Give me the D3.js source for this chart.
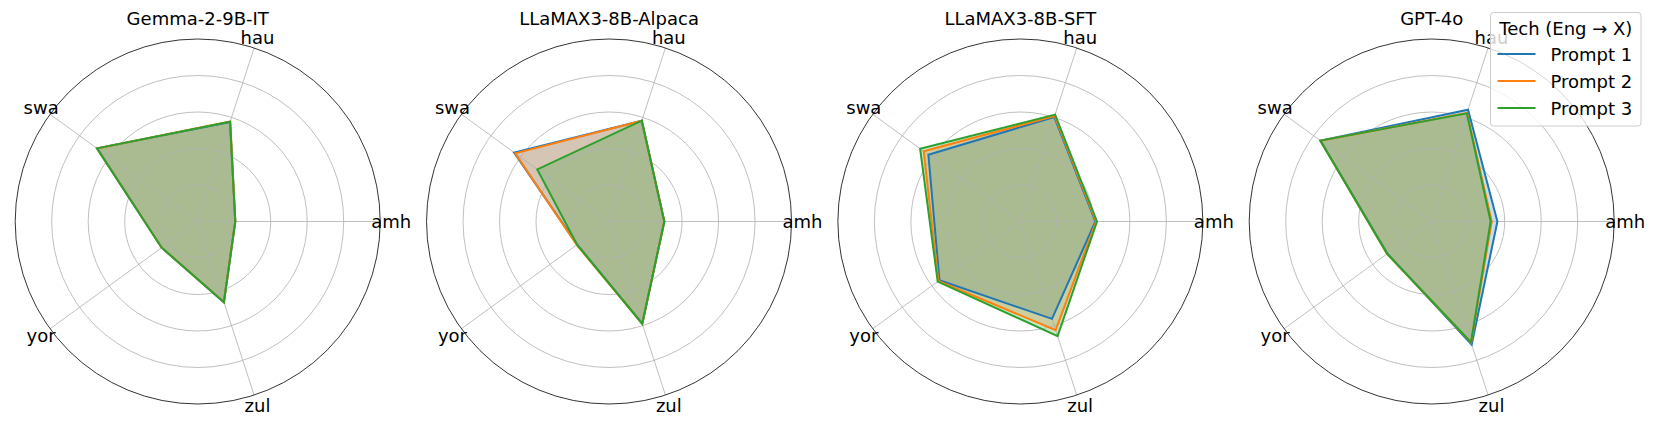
<!DOCTYPE html>
<html>
<head>
<meta charset="utf-8">
<script src="https://cdn.jsdelivr.net/npm/d3@7"></script>
<style>
  body { margin: 0; background: #fff; }
  text { font-family: "DejaVu Sans", sans-serif; fill: #000; }
</style>
</head>
<body>
<div id="chart"></div>
<script>
// Models (one radar per model) and languages (spokes)
const models = ["Gemma-2-9B-IT", "LLaMAX3-8B-Alpaca", "LLaMAX3-8B-SFT", "GPT-4o"];
const langs = ["amh", "hau", "swa", "yor", "zul"];
const promptNames = ["Prompt 1", "Prompt 2", "Prompt 3"];
const legendTitle = "Tech (Eng \u2192 X)";

// scores per model, in language order above
const prompt1 = [
    [20.6, 57.3, 68.2, 24.4, 46.5],
    [30.3, 58.1, 64.3, 21.6, 58.9],
    [41.1, 60.2, 62.3, 54.8, 56.1],
    [36.0, 64.4, 75.4, 30.0, 70.9]
];
const prompt2 = [
    [20.6, 57.7, 68.1, 24.4, 46.4],
    [30.3, 58.0, 63.5, 21.9, 58.9],
    [41.5, 60.8, 65.5, 55.5, 62.6],
    [32.9, 62.5, 75.3, 30.3, 69.8]
];
const prompt3 = [
    [20.6, 57.5, 68.2, 24.4, 46.5],
    [30.3, 58.1, 48.6, 21.6, 58.9],
    [42.0, 61.6, 67.9, 56.0, 66.0],
    [32.3, 62.3, 75.4, 30.1, 69.6]
];
const gridTicks = [20, 40, 60, 80];
const colors = ["#1f77b4", "#ff7f0e", "#2ca02c"];

const W = 1661, H = 443;
const radius = 182.5;
const cy = 221.5;

const svg = d3.select("#chart").append("svg")
    .attr("width", W)
    .attr("height", H);

const r = d3.scaleLinear().domain([0, 100]).range([0, radius]);
const cx = d3.scaleLinear().domain([0, models.length - 1]).range([197.7, 1431.7]);

// math angle (ccw from east) -> d3 radial angle (cw from north)
const theta = i => Math.PI / 2 - i * 2 * Math.PI / langs.length;

const radialLine = d3.lineRadial()
    .angle((d, i) => theta(i))
    .radius(d => r(d))
    .curve(d3.curveLinearClosed);

const series = [prompt1, prompt2, prompt3];

models.forEach((model, m) => {
    const g = svg.append("g").attr("transform", `translate(${cx(m)},${cy})`);

    // fills first
    series.forEach((s, k) => {
        g.append("path")
            .attr("d", radialLine(s[m]))
            .attr("fill", colors[k])
            .attr("fill-opacity", 0.25)
            .attr("stroke", "none");
    });

    // grid rings
    g.selectAll(".ring")
        .data(gridTicks)
        .enter()
        .append("circle")
        .attr("r", d => r(d))
        .attr("fill", "none")
        .attr("stroke", "#b0b0b0")
        .attr("stroke-width", 0.8);

    // spokes
    g.selectAll(".spoke")
        .data(langs)
        .enter()
        .append("line")
        .attr("x1", 0).attr("y1", 0)
        .attr("x2", (d, i) => r(100) * Math.sin(theta(i)))
        .attr("y2", (d, i) => -r(100) * Math.cos(theta(i)))
        .attr("stroke", "#b0b0b0")
        .attr("stroke-width", 0.8);

    // outer spine
    g.append("circle")
        .attr("r", r(100))
        .attr("fill", "none")
        .attr("stroke", "#000")
        .attr("stroke-width", 0.8);

    // lines
    series.forEach((s, k) => {
        g.append("path")
            .attr("d", radialLine(s[m]))
            .attr("fill", "none")
            .attr("stroke", colors[k])
            .attr("stroke-width", 2)
            .attr("stroke-linejoin", "miter");
    });

    // language labels
    g.selectAll(".lab")
        .data(langs)
        .enter()
        .append("text")
        .attr("x", (d, i) => (r(100) + 11) * Math.sin(theta(i)))
        .attr("y", (d, i) => -(r(100) + 11) * Math.cos(theta(i)))
        .attr("text-anchor", "middle")
        .attr("dominant-baseline", "central")
        .attr("font-size", "18px")
        .text(d => d);

    // title
    g.append("text")
        .attr("x", 0)
        .attr("y", 25 - cy)
        .attr("text-anchor", "middle")
        .attr("font-size", "18px")
        .text(model);
});

// legend
const lg = svg.append("g").attr("transform", "translate(1490.5,12.5)");
lg.append("rect")
    .attr("width", 150.5)
    .attr("height", 113.5)
    .attr("rx", 3)
    .attr("fill", "#fff")
    .attr("fill-opacity", 0.8)
    .attr("stroke", "#cccccc")
    .attr("stroke-width", 1);
lg.append("text")
    .attr("x", 75.3)
    .attr("y", 22)
    .attr("text-anchor", "middle")
    .attr("font-size", "18px")
    .text(legendTitle);
promptNames.forEach((name, k) => {
    const y = 41.5 + k * 27;
    lg.append("line")
        .attr("x1", 7).attr("x2", 45)
        .attr("y1", y).attr("y2", y)
        .attr("stroke", colors[k])
        .attr("stroke-width", 2);
    lg.append("text")
        .attr("x", 60)
        .attr("y", y)
        .attr("dominant-baseline", "central")
        .attr("font-size", "18px")
        .text(name);
});
</script>
</body>
</html>
